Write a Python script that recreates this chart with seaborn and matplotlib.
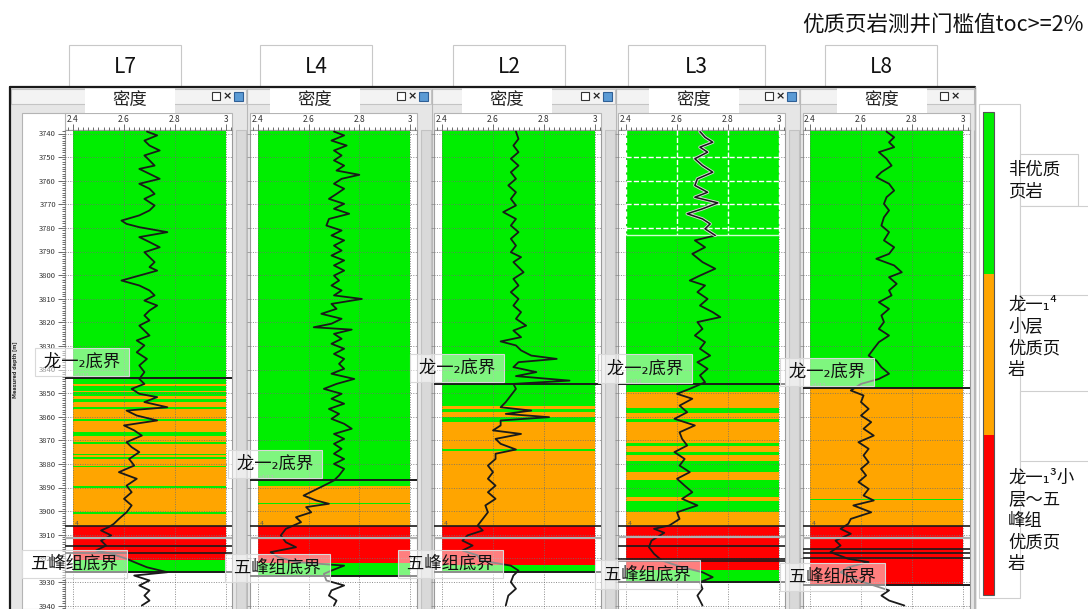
import matplotlib
matplotlib.use("Agg")
from matplotlib import pyplot as plt
from matplotlib.patches import Rectangle
from matplotlib.ticker import MultipleLocator, FormatStrFormatter
import matplotlib.patheffects as pe
import seaborn as sns

sns.set_theme(style="white")
plt.rcParams['font.family'] = ['Noto Sans CJK SC', 'DejaVu Sans']
plt.rcParams['axes.unicode_minus'] = False

W, H = 1088, 609

wells = ['L7', 'L4', 'L2', 'L3', 'L8']

# ---- density logs (depth m, density g/cm3) ----
l7_depth = [3739.2, 3740.8, 3743.0, 3745.1, 3747.2, 3749.3, 3751.4, 3753.6, 3755.0, 3757.1,
            3759.2, 3761.3, 3763.4, 3765.6, 3767.7, 3770.5, 3772.6, 3774.7, 3776.9, 3778.3,
            3779.7, 3781.8, 3783.9, 3786.0, 3788.2, 3790.3, 3792.4, 3794.5, 3796.6, 3798.1,
            3800.2, 3802.3, 3804.4, 3806.5, 3808.6, 3810.8, 3812.9, 3815.0, 3817.1, 3819.2,
            3821.4, 3823.5, 3825.6, 3827.7, 3829.8, 3832.7, 3835.5, 3838.3, 3841.1, 3844.0,
            3846.1, 3848.2, 3850.3, 3851.7, 3853.8, 3856.0, 3857.4, 3859.5, 3861.6, 3863.7,
            3865.8, 3868.0, 3870.8, 3872.9, 3875.0, 3877.9, 3880.7, 3883.5, 3886.3, 3889.2,
            3892.0, 3894.8, 3897.6, 3900.5, 3903.3, 3905.4, 3906.8, 3908.2, 3910.3, 3912.5,
            3914.6, 3916.7, 3918.1, 3920.2, 3921.6, 3923.8, 3925.9, 3927.3, 3929.4, 3931.5,
            3933.6, 3935.8, 3937.9, 3940.0]
l7_rhob = [2.69, 2.73, 2.68, 2.70, 2.74, 2.68, 2.70, 2.72, 2.66, 2.70,
           2.74, 2.66, 2.70, 2.72, 2.68, 2.72, 2.70, 2.66, 2.59, 2.61,
           2.66, 2.77, 2.66, 2.70, 2.74, 2.68, 2.70, 2.72, 2.70, 2.73,
           2.66, 2.59, 2.66, 2.70, 2.72, 2.68, 2.73, 2.70, 2.68, 2.70,
           2.66, 2.68, 2.70, 2.65, 2.68, 2.65, 2.69, 2.66, 2.68, 2.66,
           2.68, 2.63, 2.66, 2.73, 2.68, 2.77, 2.61, 2.65, 2.73, 2.60,
           2.64, 2.67, 2.61, 2.63, 2.66, 2.62, 2.64, 2.58, 2.65, 2.61,
           2.63, 2.60, 2.63, 2.61, 2.58, 2.56, 2.54, 2.51, 2.55, 2.51,
           2.53, 2.49, 2.55, 2.61, 2.64, 2.69, 2.77, 2.64, 2.70, 2.66,
           2.70, 2.68, 2.70, 2.67]

l4_depth = [3739.2, 3740.8, 3743.0, 3745.1, 3747.2, 3749.3, 3751.4, 3753.6, 3755.7, 3757.5,
            3759.2, 3761.3, 3763.4, 3765.6, 3767.7, 3769.8, 3771.9, 3774.0, 3776.2, 3779.0,
            3781.1, 3783.2, 3785.3, 3787.5, 3789.6, 3791.7, 3793.8, 3795.9, 3798.1, 3800.2,
            3802.3, 3804.4, 3806.5, 3808.6, 3810.1, 3812.2, 3814.3, 3816.4, 3818.5, 3820.6,
            3822.1, 3823.1, 3824.9, 3827.0, 3829.1, 3831.2, 3833.4, 3835.5, 3837.6, 3839.7,
            3841.8, 3844.0, 3846.1, 3848.2, 3850.3, 3852.4, 3854.5, 3856.7, 3858.8, 3860.9,
            3863.0, 3865.1, 3867.3, 3869.4, 3871.5, 3873.6, 3875.7, 3877.9, 3880.0, 3882.1,
            3884.9, 3887.0, 3889.2, 3891.3, 3893.4, 3895.5, 3896.9, 3898.3, 3900.5, 3902.6,
            3904.7, 3907.5, 3910.3, 3913.2, 3915.3, 3917.4, 3919.5, 3921.6, 3923.1, 3925.2,
            3926.6, 3929.4, 3931.5, 3933.6, 3935.8, 3937.9, 3940.0]
l4_rhob = [2.70, 2.74, 2.69, 2.75, 2.70, 2.73, 2.70, 2.74, 2.71, 2.80,
           2.73, 2.70, 2.74, 2.71, 2.68, 2.74, 2.70, 2.76, 2.68, 2.67,
           2.73, 2.69, 2.74, 2.70, 2.73, 2.69, 2.74, 2.70, 2.74, 2.70,
           2.72, 2.69, 2.73, 2.70, 2.81, 2.69, 2.71, 2.65, 2.73, 2.69,
           2.62, 2.77, 2.70, 2.73, 2.69, 2.74, 2.70, 2.74, 2.72, 2.74,
           2.69, 2.78, 2.71, 2.66, 2.73, 2.69, 2.74, 2.68, 2.72, 2.69,
           2.74, 2.77, 2.70, 2.74, 2.70, 2.73, 2.70, 2.74, 2.70, 2.74,
           2.72, 2.70, 2.66, 2.62, 2.58, 2.63, 2.68, 2.59, 2.61, 2.55,
           2.57, 2.51, 2.49, 2.51, 2.55, 2.45, 2.48, 2.55, 2.74, 2.69,
           2.66, 2.67, 2.74, 2.69, 2.68, 2.71, 2.70]

l2_depth = [3739.2, 3742.3, 3745.1, 3747.9, 3750.7, 3753.6, 3756.4, 3759.2, 3762.0, 3764.9,
            3767.7, 3770.5, 3773.3, 3776.2, 3779.0, 3781.8, 3784.6, 3787.5, 3790.3, 3792.4,
            3794.5, 3798.8, 3801.6, 3804.4, 3807.2, 3810.1, 3812.9, 3815.7, 3818.5, 3821.4,
            3823.5, 3826.3, 3828.1, 3829.8, 3831.9, 3834.1, 3835.5, 3836.9, 3839.0, 3841.1,
            3842.8, 3844.7, 3846.1, 3848.2, 3851.0, 3853.8, 3856.0, 3857.4, 3858.8, 3860.2,
            3861.6, 3863.7, 3865.8, 3867.3, 3869.4, 3871.5, 3873.9, 3875.7, 3877.9, 3880.7,
            3883.5, 3886.3, 3889.2, 3892.0, 3894.8, 3897.6, 3900.5, 3903.3, 3906.1, 3908.2,
            3910.3, 3912.5, 3914.6, 3916.7, 3918.8, 3920.9, 3923.1, 3925.2, 3927.3, 3930.1,
            3932.9, 3935.8, 3940.0]
l2_rhob = [2.69, 2.70, 2.68, 2.70, 2.67, 2.70, 2.67, 2.69, 2.66, 2.69,
           2.67, 2.69, 2.64, 2.69, 2.67, 2.70, 2.67, 2.69, 2.67, 2.71,
           2.68, 2.72, 2.68, 2.70, 2.67, 2.70, 2.68, 2.71, 2.69, 2.73,
           2.68, 2.71, 2.63, 2.69, 2.71, 2.75, 2.85, 2.70, 2.68, 2.77,
           2.69, 2.90, 2.68, 2.69, 2.67, 2.65, 2.63, 2.75, 2.65, 2.82,
           2.63, 2.63, 2.60, 2.71, 2.61, 2.63, 2.69, 2.61, 2.61, 2.58,
           2.60, 2.58, 2.61, 2.58, 2.61, 2.57, 2.58, 2.56, 2.54, 2.56,
           2.50, 2.48, 2.52, 2.48, 2.54, 2.55, 2.67, 2.70, 2.68, 2.67,
           2.69, 2.66, 2.65]

l3_depth = [3739.2, 3741.6, 3743.7, 3745.8, 3747.9, 3750.7, 3753.6, 3756.4, 3759.2, 3762.0,
            3764.9, 3767.0, 3769.4, 3771.9, 3774.0, 3776.2, 3778.3, 3780.4, 3783.2, 3785.3,
            3788.2, 3791.0, 3794.5, 3797.3, 3800.2, 3802.3, 3804.4, 3807.2, 3810.1, 3812.9,
            3815.7, 3817.8, 3819.9, 3822.8, 3825.6, 3828.4, 3831.2, 3834.1, 3836.9, 3839.7,
            3842.5, 3845.4, 3848.2, 3850.3, 3852.4, 3855.3, 3858.1, 3860.9, 3863.7, 3866.6,
            3869.4, 3872.2, 3875.0, 3877.9, 3880.7, 3883.5, 3886.3, 3889.2, 3892.0, 3894.8,
            3897.6, 3900.5, 3903.3, 3906.1, 3907.5, 3909.2, 3912.5, 3915.3, 3918.1, 3920.9,
            3923.8, 3925.9, 3928.0, 3930.1, 3932.9, 3935.8, 3940.0]
l3_rhob = [2.69, 2.71, 2.74, 2.69, 2.72, 2.67, 2.70, 2.74, 2.68, 2.67,
           2.72, 2.67, 2.76, 2.70, 2.64, 2.70, 2.73, 2.71, 2.75, 2.67,
           2.71, 2.66, 2.70, 2.75, 2.69, 2.65, 2.71, 2.68, 2.72, 2.69,
           2.74, 2.77, 2.68, 2.70, 2.67, 2.71, 2.69, 2.73, 2.68, 2.72,
           2.69, 2.71, 2.65, 2.60, 2.66, 2.61, 2.64, 2.59, 2.67, 2.61,
           2.62, 2.64, 2.59, 2.63, 2.61, 2.65, 2.60, 2.63, 2.66, 2.62,
           2.68, 2.60, 2.61, 2.57, 2.51, 2.55, 2.50, 2.49, 2.51, 2.54,
           2.62, 2.70, 2.74, 2.69, 2.70, 2.68, 2.70]

l8_depth = [3739.2, 3741.6, 3743.7, 3745.8, 3747.9, 3750.7, 3753.6, 3756.4, 3758.5, 3761.3,
            3764.2, 3767.0, 3769.8, 3772.6, 3775.5, 3779.0, 3781.8, 3785.3, 3788.2, 3791.0,
            3793.1, 3795.9, 3798.8, 3800.9, 3803.7, 3806.5, 3808.6, 3811.5, 3814.3, 3817.1,
            3819.9, 3822.8, 3825.6, 3828.4, 3831.2, 3834.1, 3836.2, 3839.0, 3841.8, 3844.0,
            3846.1, 3848.9, 3851.0, 3853.8, 3856.7, 3859.5, 3862.3, 3865.1, 3868.0, 3870.8,
            3873.6, 3876.4, 3879.3, 3882.1, 3884.9, 3887.7, 3890.6, 3893.4, 3895.5, 3897.6,
            3900.5, 3903.3, 3905.4, 3907.5, 3909.6, 3912.5, 3914.6, 3917.4, 3920.2, 3921.6,
            3923.8, 3925.9, 3928.7, 3931.5, 3933.6, 3935.8, 3937.9, 3940.0]
l8_rhob = [2.70, 2.73, 2.71, 2.73, 2.67, 2.70, 2.72, 2.68, 2.66, 2.71,
           2.73, 2.70, 2.69, 2.71, 2.69, 2.68, 2.71, 2.69, 2.73, 2.71,
           2.66, 2.73, 2.76, 2.71, 2.74, 2.71, 2.72, 2.67, 2.71, 2.68,
           2.69, 2.67, 2.71, 2.67, 2.65, 2.63, 2.66, 2.68, 2.71, 2.67,
           2.60, 2.56, 2.61, 2.60, 2.63, 2.60, 2.64, 2.61, 2.65, 2.59,
           2.63, 2.61, 2.63, 2.60, 2.62, 2.59, 2.63, 2.61, 2.65, 2.57,
           2.64, 2.56, 2.55, 2.52, 2.56, 2.50, 2.52, 2.48, 2.55, 2.63,
           2.55, 2.52, 2.57, 2.65, 2.71, 2.68, 2.71, 2.77]

# ---- shale class intervals: boundaries (m) and class per interval ----
# G = 非优质页岩, O = 龙一1^4 优质页岩, R = 龙一1^3~五峰组 优质页岩
l7_bounds = [3738.5, 3846.1, 3847.1, 3848.9, 3849.6, 3851.3, 3852.4, 3853.6, 3856.0, 3856.7,
             3860.9, 3861.9, 3866.6, 3868.0, 3870.8, 3871.5, 3875.7, 3876.4, 3877.1, 3877.9,
             3880.7, 3881.4, 3889.2, 3890.1, 3900.5, 3901.2, 3906.5, 3920.9, 3925.9]
l7_class = list('GOGOGOGOGOGOGOGOGOGOGOGOGORG')
l4_bounds = [3738.5, 3889.2, 3896.5, 3897.0, 3906.3, 3922.0, 3927.6]
l4_class = list('GOGORG')
l2_bounds = [3738.5, 3855.3, 3856.9, 3857.8, 3860.2, 3862.3, 3873.6, 3874.5, 3906.5, 3922.8, 3925.9]
l2_class = list('GOGOGOGORG')
l3_bounds = [3738.5, 3849.7, 3856.4, 3858.3, 3861.0, 3862.1, 3871.3, 3872.3, 3874.8, 3876.2,
             3878.8, 3883.3, 3886.8, 3893.9, 3895.7, 3900.5, 3906.3, 3925.0, 3930.2]
l3_class = list('GOGOGOGOGOGOGOGORG')
l8_bounds = [3738.5, 3847.9, 3894.9, 3895.4, 3906.5, 3931.2]
l8_class = list('GOGOR')

# ---- horizons ----
long2_base = [3843.5, 3886.8, 3846.1, 3846.3, 3847.9]       # 龙一2底界
layer_lines = [[3906.5, 3914.6, 3917.8], [3906.3], [3906.5],
               [3906.3, 3914.7, 3920.4, 3921.3], [3906.5, 3915.9, 3917.8, 3919.8]]
grey_lines = [3911.3, 3911.3, 3911.3, 3910.8, 3911.3]
wufeng_base = [3925.9, 3927.6, 3925.9, 3930.2, 3931.2]       # 五峰组底界

depths = [l7_depth, l4_depth, l2_depth, l3_depth, l8_depth]
rhobs = [l7_rhob, l4_rhob, l2_rhob, l3_rhob, l8_rhob]
bounds = [l7_bounds, l4_bounds, l2_bounds, l3_bounds, l8_bounds]
classes = [l7_class, l4_class, l2_class, l3_class, l8_class]

legend_labels = ['非优质\n页岩', '龙一₁⁴\n小层\n优质页\n岩', '龙一₁³小\n层～五\n峰组\n优质页\n岩']
class_colors = {'G': '#00ee00', 'O': '#ffa500', 'R': '#ff0000'}

# ---- layout (pixels) ----
# panel left, x of 2.4, x of 3.0, panel right
panels = [(65, 73, 226, 232), (250, 258, 410, 417), (434, 442, 595, 601),
          (618, 626, 779, 785), (803, 810, 963, 970)]
subwins = [(11, 246), (247, 431), (432, 615), (616, 799), (800, 974)]
head_boxes = [(69, 112), (260, 112), (453, 112), (628, 137), (825, 112)]
midu_cx = [130, 315, 507, 694, 882]
top_lab_x = [40, 233, 415, 603, 785]
base_lab_x = [27, 230, 403, 600, 785]
PANEL_TOP = 130
Y3740, PX_PER_M = 133.5, 2.36


def d2px(d):
    return Y3740 + (d - 3740) * PX_PER_M


def px_axes(x0, y0, x1, y1, **kw):
    return fig.add_axes([x0 / W, 1 - y1 / H, (x1 - x0) / W, (y1 - y0) / H], **kw)


fig = plt.figure(figsize=(W / 100, H / 100), dpi=100)

bg = px_axes(0, 0, W, H, zorder=-10)
bg.set_xlim(0, W)
bg.set_ylim(H, 0)
bg.axis('off')

top = px_axes(0, 0, W, H, zorder=10)
top.set_xlim(0, W)
top.set_ylim(H, 0)
top.axis('off')
top.patch.set_alpha(0)

# window chrome
bg.add_patch(Rectangle((10, 87), 965, H - 87, fc='#e6e6e6', ec='none'))
bg.plot([10, 975], [87, 87], color='k', lw=1.6)
bg.plot([10, 10], [87, H], color='k', lw=1.6)
bg.plot([975, 975], [87, H], color='#888888', lw=1)
for j, (x0, x1) in enumerate(subwins):
    bg.add_patch(Rectangle((x0, 89), x1 - x0, 15, fc='#f3f3f3', ec='#c4c4c4', lw=0.8))
    bg.add_patch(Rectangle((x1 - 34, 92), 8, 8, fc='white', ec='#333333', lw=0.8))
    bg.text(x1 - 19, 96.5, '×', ha='center', va='center', fontsize=8, weight='bold',
            color='#222222', family='DejaVu Sans')
    if j < len(subwins) - 1:
        bg.add_patch(Rectangle((x1 - 12, 92), 9, 9, fc='#5b9bd5', ec='#2f5f95', lw=0.8))
    bg.plot([x1 + 0.5, x1 + 0.5], [89, H], color='#b8b8b8', lw=0.8)

for i, (pl, x24, x30, pr) in enumerate(panels):
    bg.add_patch(Rectangle((pl, 113), pr - pl, 17, fc='white', ec='#b4b4b4', lw=0.8))
    sb = min(pr + 14, 974) - (pr + 4)
    bg.add_patch(Rectangle((pr + 4, PANEL_TOP), sb, H - PANEL_TOP, fc='#d9d9d9', ec='#c2c2c2', lw=0.8))
    bg.add_patch(Rectangle((midu_cx[i] - 45, 88), 90, 25, fc='white', ec='none'))
    bg.text(midu_cx[i], 100.5, '密度', ha='center', va='center', fontsize=12.5, color='#222222')

# depth track
bg.add_patch(Rectangle((22, 113), 43, H - 113, fc='white', ec='#b4b4b4', lw=0.8))
bg.text(15, 370, 'Measured depth [m]', rotation=90, ha='center', va='center', fontsize=3.5,
        weight='bold', color='#333333', family='DejaVu Sans')

# well name header boxes
for name, (x0, w) in zip(wells, head_boxes):
    bg.add_patch(Rectangle((x0, 45), w, 42, fc='white', ec='#c8c8c8', lw=0.8))
    bg.text(x0 + w / 2, 67, name, ha='center', va='center', fontsize=15, color='#111111')

top.text(1084, 25, '优质页岩测井门槛值toc>=2%', ha='right', va='center', fontsize=15.5,
         color='#111111')

# ---- well tracks ----
for i, name in enumerate(wells):
    pl, x24, x30, pr = panels[i]
    ax = px_axes(pl, PANEL_TOP, pr, H)
    k = 0.6 / (x30 - x24)

    b = bounds[i]
    for t, bb, c in zip(b[:-1], b[1:], classes[i]):
        ax.fill_betweenx([t, bb], 2.4, 3.0, color=class_colors[c], lw=0, zorder=1)

    sns.lineplot(x=rhobs[i], y=depths[i], orient='y', sort=False, estimator=None,
                 color='k', lw=1.3, ax=ax, zorder=3)

    if name == 'L3':
        # top section shown with white dashed grid
        ax.vlines([2.4, 2.6, 2.8, 3.0], 3738.5, 3783.2, colors='white', linestyles='--', lw=1, zorder=2.6)
        ax.hlines([3750, 3760, 3770, 3780], 2.4, 3.0, colors='white', linestyles='--', lw=1, zorder=2.6)
        ax.hlines([3783.2], 2.4, 3.0, colors='#d0ffd0', lw=1, zorder=2.6)
        sub = [j for j, d in enumerate(depths[i]) if d <= 3783.2]
        ax.plot([rhobs[i][j] for j in sub], [depths[i][j] for j in sub], color='k', lw=1.1,
                zorder=3.5, path_effects=[pe.Stroke(linewidth=2.4, foreground='#d8d8d8'), pe.Normal()])

    ax.axhline(long2_base[i], color='k', lw=1.4, zorder=4)
    ax.text(2.405, long2_base[i] - 0.4, 's1l12', fontsize=4, color='#777777', zorder=4,
            family='DejaVu Sans')
    for d in layer_lines[i]:
        ax.axhline(d, color='k', lw=1.2, zorder=4)
    ax.text(2.405, layer_lines[i][0] - 0.4, '4', fontsize=4.5, color='#555555', zorder=4,
            family='DejaVu Sans')
    ax.axhline(grey_lines[i], color='#b0b0b0', lw=1.6, zorder=4)
    ax.axhline(wufeng_base[i], color='k', lw=1.4, zorder=4)

    ax.set_xlim(2.4 - (x24 - pl) * k, 3.0 + (pr - x30) * k)
    ax.set_ylim(3740 + (H - Y3740) / PX_PER_M, 3740 + (PANEL_TOP - Y3740) / PX_PER_M)
    ax.set_xlabel('')
    ax.set_ylabel('')

    ax.set_xticks([2.4, 2.6, 2.8, 3.0])
    ax.set_xticklabels(['2.4', '2.6', '2.8', '3'])
    ax.xaxis.set_minor_locator(MultipleLocator(0.02))
    ax.xaxis.tick_top()
    ax.tick_params(axis='x', which='both', top=True, bottom=False, labeltop=True,
                   labelbottom=False, direction='out', labelsize=6, pad=0.5,
                   colors='#333333', width=0.5)
    ax.tick_params(axis='x', which='major', length=4)
    ax.tick_params(axis='x', which='minor', length=2)

    ax.yaxis.set_major_locator(MultipleLocator(10))
    ax.yaxis.set_major_formatter(FormatStrFormatter('%d'))
    if i == 0:
        ax.yaxis.set_minor_locator(MultipleLocator(1))
        ax.tick_params(axis='y', which='both', left=True, labelleft=True, direction='out',
                       labelsize=5.5, pad=1.5, colors='#333333', width=0.5)
        ax.tick_params(axis='y', which='major', length=5)
        ax.tick_params(axis='y', which='minor', length=2.5)
    else:
        ax.tick_params(axis='y', which='major', left=True, labelleft=False, direction='out',
                       length=2, width=0.5, colors='#888888')

    ax.grid(True, which='major', ls=(0, (1, 1.5)), color='#6f6f6f', lw=0.7, alpha=0.8)
    ax.set_axisbelow(False)
    for s in ax.spines.values():
        s.set_color('#9a9a9a')
        s.set_linewidth(0.8)

    # horizon labels
    box = dict(boxstyle='square,pad=0.3', fc=(1, 1, 1, 0.5), ec=(0.85, 0.85, 0.85), lw=0.8)
    top.text(top_lab_x[i], d2px(long2_base[i]) - 16, ' 龙一₂底界 ', ha='left', va='center',
             fontsize=12.5, color='#111111', bbox=box)
    top.text(base_lab_x[i], d2px(wufeng_base[i]) - 8, ' 五峰组底界 ', ha='left', va='center',
             fontsize=12.5, color='#111111', bbox=box)

# ---- legend ----
for (x0, y0, x1, y1) in [(979, 104, 1020, 598), (1020, 154, 1078, 206), (1020, 206, 1090, 295),
                         (1020, 391, 1090, 461)]:
    bg.add_patch(Rectangle((x0, y0), x1 - x0, y1 - y0, fc='white', ec='#cfcfcf', lw=0.8))
bar = [(112, 274, 'G'), (274, 435, 'O'), (435, 595, 'R')]
for y0, y1, c in bar:
    top.add_patch(Rectangle((983, y0), 11, y1 - y0, fc=class_colors[c], ec='none'))
top.add_patch(Rectangle((983, 112), 11, 483, fc='none', ec='#555555', lw=0.8))

for lab, y0 in zip(legend_labels, [170, 305, 478]):
    for n, line in enumerate(lab.split('\n')):
        top.text(1008, y0 + n * 21.5, line, ha='left', va='center', fontsize=12.5, color='#111111')

plt.savefig('out.png', dpi=100)
